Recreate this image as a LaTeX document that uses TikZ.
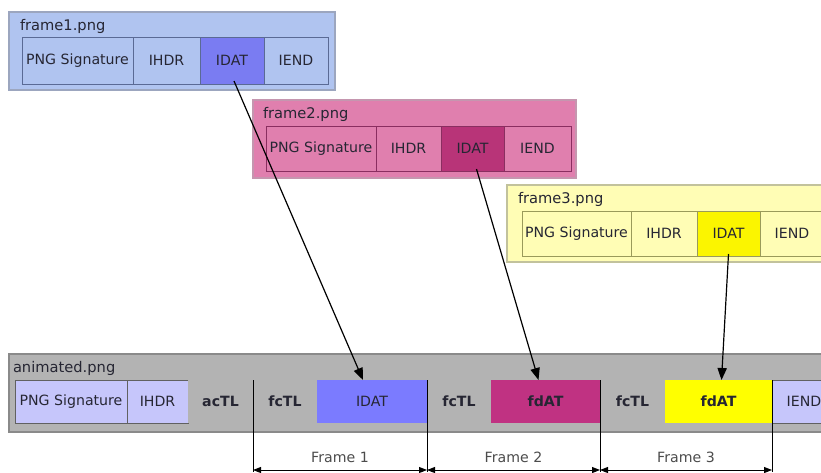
\documentclass[tikz,border=0pt]{standalone}
\usepackage{fontspec}
\setmainfont{DejaVu Sans}
\usetikzlibrary{arrows.meta,calc}
\definecolor{fAbg}{HTML}{B0C4F0}
\definecolor{fAline}{HTML}{5A6A95}
\definecolor{fAidat}{HTML}{7A7CF2}
\definecolor{fBbg}{HTML}{E07FAE}
\definecolor{fBline}{HTML}{8A2E60}
\definecolor{fBidat}{HTML}{B83478}
\definecolor{fCbg}{HTML}{FFFDB5}
\definecolor{fCline}{HTML}{9A9A5A}
\definecolor{fCidat}{HTML}{FBF500}
\definecolor{anbg}{HTML}{B3B3B3}
\definecolor{anline}{HTML}{8A8A8A}
\definecolor{anlav}{HTML}{C6C6FB}
\definecolor{anidat}{HTML}{7B7BFF}
\definecolor{anfdB}{HTML}{C03282}
\definecolor{anfdC}{HTML}{FFFF00}
\definecolor{txt}{HTML}{262633}
\newcommand\pcell[7]{\node[#6, minimum width={(#3-#2)*0.75pt}, minimum height={(#5-#4)*0.75pt}] (#1) at ({(#2+#3)/2},{(#4+#5)/2}) {#7};}
\tikzset{
  x=0.75pt, y=-0.75pt,
  base/.style={inner sep=0pt, outer sep=0pt, font=\fontsize{10.6}{12}\selectfont, text=txt},
  outerbox/.style={base, rectangle, line width=0.8pt},
  cellbox/.style={base, rectangle, line width=0.7pt},
  bcell/.style={base, rectangle, font=\fontsize{10.6}{12}\selectfont\bfseries},
  titletext/.style={base, anchor=west, font=\fontsize{11}{12}\selectfont},
  link/.style={-{Triangle[length=9pt,width=7pt]}, line width=0.9pt, black},
  dimline/.style={line width=0.7pt, black},
  dimarrow/.style={{Triangle[length=6pt,width=4.5pt]}-{Triangle[length=6pt,width=4.5pt]}, line width=0.7pt, black},
  dimlabel/.style={base, font=\fontsize{10.6}{12}\selectfont, text=black!70}
}
\begin{document}
\begin{tikzpicture}
\useasboundingbox (0,0) rectangle (821,472);
\clip (0,0) rectangle (821,472);
\fill[white] (0,0) rectangle (821,472);
% frame1.png
\pcell{frameA}{9}{335}{12}{90}{outerbox, fill=fAbg, draw=fAline!60}{}
\node[titletext] (titleA) at (20,26) {frame1.png};
\pcell{fAsig}{22}{133}{37}{84}{cellbox, fill=fAbg, draw=fAline}{PNG Signature}
\pcell{fAihdr}{133}{200}{37}{84}{cellbox, fill=fAbg, draw=fAline}{IHDR}
\pcell{fAidat}{200}{264}{37}{84}{cellbox, fill=fAidat, draw=fAline}{IDAT}
\pcell{fAiend}{264}{328}{37}{84}{cellbox, fill=fAbg, draw=fAline}{IEND}
% frame2.png
\pcell{frameB}{253}{576}{100}{178}{outerbox, fill=fBbg, draw=fBline!50}{}
\node[titletext] (titleB) at (263,114) {frame2.png};
\pcell{fBsig}{266}{376}{126}{171}{cellbox, fill=fBbg, draw=fBline}{PNG Signature}
\pcell{fBihdr}{376}{441}{126}{171}{cellbox, fill=fBbg, draw=fBline}{IHDR}
\pcell{fBidat}{441}{504}{126}{171}{cellbox, fill=fBidat, draw=fBline}{IDAT}
\pcell{fBiend}{504}{571}{126}{171}{cellbox, fill=fBbg, draw=fBline}{IEND}
% frame3.png
\pcell{frameC}{507}{840}{185}{262}{outerbox, fill=fCbg, draw=fCline!60}{}
\node[titletext] (titleC) at (518,199) {frame3.png};
\pcell{fCsig}{522}{631}{211}{256}{cellbox, fill=fCbg, draw=fCline}{PNG Signature}
\pcell{fCihdr}{631}{697}{211}{256}{cellbox, fill=fCbg, draw=fCline}{IHDR}
\pcell{fCidat}{697}{760}{211}{256}{cellbox, fill=fCidat, draw=fCline}{IDAT}
\pcell{fCiend}{760}{824}{211}{256}{cellbox, fill=fCbg, draw=fCline}{IEND}
% animated.png
\pcell{anim}{9}{840}{354}{432}{outerbox, fill=anbg, draw=anline}{}
\node[titletext] (titleD) at (13,368) {animated.png};
\pcell{aSig}{15}{127}{380}{423}{cellbox, fill=anlav, draw=anline!70!black}{PNG Signature}
\pcell{aIhdr}{127}{188}{380}{423}{cellbox, fill=anlav, draw=anline!70!black}{IHDR}
\pcell{aActl}{188}{253}{380}{423}{bcell, fill=anbg}{acTL}
\pcell{aFcA}{253}{317}{380}{423}{bcell, fill=anbg}{fcTL}
\pcell{aIdat}{317}{427}{380}{423}{cellbox, fill=anidat}{IDAT}
\pcell{aFcB}{427}{491}{380}{423}{bcell, fill=anbg}{fcTL}
\pcell{aFdB}{491}{600}{380}{423}{bcell, fill=anfdB}{fdAT}
\pcell{aFcC}{600}{665}{380}{423}{bcell, fill=anbg}{fcTL}
\pcell{aFdC}{665}{772}{380}{423}{bcell, fill=anfdC}{fdAT}
\pcell{aIend}{772}{836}{380}{423}{cellbox, fill=anlav, draw=anline!70!black}{IEND}
% frame brackets
\coordinate (bA) at (253,472);
\coordinate (bB) at (427,472);
\coordinate (bC) at (600,472);
\coordinate (bD) at (772,472);
\draw[dimline] (aFcA.north west) -- (bA);
\draw[dimline] (aFcB.north west) -- (bB);
\draw[dimline] (aFcC.north west) -- (bC);
\draw[dimline] (aFdC.north east) -- (bD);
\draw[dimarrow] ($(bA)+(0,-2)$) -- ($(bB)+(0,-2)$);
\draw[dimarrow] ($(bB)+(0,-2)$) -- ($(bC)+(0,-2)$);
\draw[dimarrow] ($(bC)+(0,-2)$) -- ($(bD)+(0,-2)$);
\node[dimlabel] (lblA) at (340,457) {Frame 1};
\node[dimlabel] (lblB) at (513.5,457) {Frame 2};
\node[dimlabel] (lblC) at (686,457) {Frame 3};
% links
\draw[link] ($(fAidat.south)+(2,-3)$) -- ($(aIdat.north)+(-9,0)$);
\draw[link] ($(fBidat.south)+(4,-2)$) -- ($(aFdB.north)+(-7,0)$);
\draw[link] ($(fCidat.south)+(0,-2)$) -- ($(aFdC.north)+(3,0)$);
\end{tikzpicture}
\end{document}
